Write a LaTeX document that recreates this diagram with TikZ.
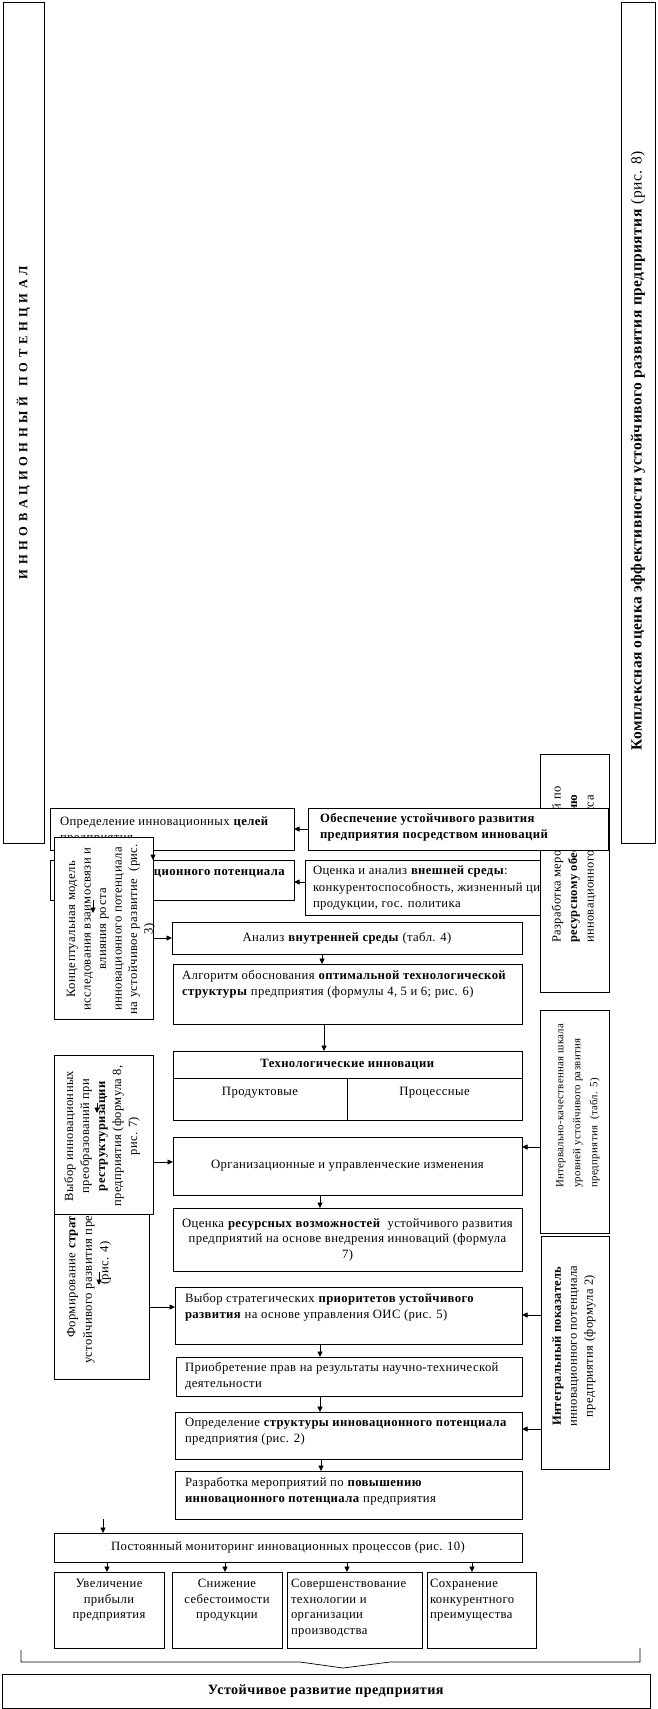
\documentclass[tikz,border=0pt]{standalone}
\usepackage{fontspec}
\setmainfont{Liberation Serif}[LetterSpace=3]
\usetikzlibrary{arrows.meta}
\newcommand{\bxc}[3]{\begin{minipage}[c][#2][c]{#1}\centering #3\par\end{minipage}}
\newcommand{\bxt}[5]{\begin{minipage}[c][#2][t]{#1}\vspace*{#3}\raggedright\leftskip=#4\relax\strut #5\par\end{minipage}}
\newcommand{\bxtc}[4]{\begin{minipage}[c][#2][t]{#1}\vspace*{#3}\centering\strut #4\par\end{minipage}}
\begin{document}
\begin{tikzpicture}[x=1pt,y=-1pt,
  every node/.style={font=\fontsize{12.7}{15.5}\selectfont},
  box/.style={draw, line width=0.8pt, fill=white, inner sep=0pt, outer sep=0pt, anchor=north west},
  frame/.style={draw, line width=0.8pt, fill=white, inner sep=0pt, outer sep=0pt, anchor=north west},
  rt/.style={rotate=90, inner sep=0pt, align=center},
  arr/.style={line width=0.8pt, -{Triangle[length=5.5pt,width=5pt]}},
]
\useasboundingbox (0,0) rectangle (657,1709);
% banners
\node[frame, minimum width=41pt, minimum height=841pt] (bL) at (3,2) {};
\node[rt, font=\bfseries\fontsize{12.5}{14}\selectfont] (bLt) at (bL.center) {\spaceskip=4.6pt\relax И Н Н О В А Ц И О Н Н Ы Й\hspace{6pt} П О Т Е Н Ц И А Л};
\node[frame, minimum width=34pt, minimum height=841pt] (bR) at (621,2) {};
\node[rt, font=\fontsize{15.5}{17}\selectfont] (bRt) at (638,451) {\textbf{Комплексная оценка эффективности устойчивого развития предприятия} (рис. 8)};
% top rows
\node[box] (opr) at (50,808) {\bxt{244pt}{42pt}{7pt}{10pt}{Определение инновационных \textbf{целей}\\предприятия}};
\node[box] (row2) at (50,860) {\bxt{244pt}{40pt}{5pt}{104pt}{\textbf{ционного потенциала}}};
\node[box] (vnesh) at (305,860) {\bxt{295pt}{55pt}{4pt}{8pt}{\fontsize{12.7}{16.5}\selectfont Оценка и анализ \textbf{внешней среды}:\\\mbox{конкурентоспособность, жизненный цикл}\\продукции, гос. политика}};
\node[frame, minimum width=69pt, minimum height=238pt] (razr) at (540,754) {};
\node[rt, align=left, anchor=west, font=\fontsize{12.5}{16.5}\selectfont] (razrt) at (574,943) {Разработка мероприятий по\\\textbf{ресурсному обеспечению}\\инновационного процесса};
\node[box] (obesp) at (308,808) {\bxt{300pt}{42pt}{4pt}{12pt}{\textbf{Обеспечение устойчивого развития}\\\textbf{предприятия посредством инноваций}}};
% conceptual model
\node[frame, minimum width=99pt, minimum height=182pt] (konc) at (54,837) {};
\node[rt] (konct) at (111,929) {Концептуальная модель\\исследования взаимосвязи и\\влияния роста\\инновационного потенциала\\на устойчивое развитие\ \ (рис.\\3)};
% central column
\node[box] (anal) at (172,922) {\bxc{350pt}{32pt}{Анализ \textbf{внутренней среды} (табл. 4)}};
\node[box] (alg) at (173,964) {\bxt{349pt}{60pt}{5pt}{9pt}{\mbox{Алгоритм обоснования \textbf{оптимальной технологической}}\\\textbf{структуры} предприятия (формулы 4, 5 и 6; рис. 6)}};
\node[box] (techt) at (173,1051) {\bxc{349pt}{27pt}{\textbf{Технологические инновации}}};
\node[box] (techp) at (173,1078) {\bxtc{174pt}{42pt}{7pt}{Продуктовые}};
\node[box] (techr) at (347,1078) {\bxtc{175pt}{42pt}{7pt}{Процессные}};
% strategy
\node[frame, minimum width=95pt, minimum height=232pt] (form) at (54,1147) {};
\node[rt, font=\fontsize{12.7}{16.5}\selectfont] (formt) at (89,1263) {Формирование \textbf{стратегии}\\устойчивого развития предприятия\\(рис. 4)};
\node[frame, minimum width=99pt, minimum height=159pt] (vybor) at (54,1055) {};
\node[rt, font=\fontsize{12.5}{16}\selectfont] (vybort) at (102,1136) {Выбор инновационных\\преобразований при\\\textbf{реструктуризации}\\предприятия (формула 8,\\рис. 7)};
\node[box] (org) at (173,1137) {\bxc{349pt}{58pt}{Организационные и управленческие изменения}};
% right column
\node[frame, minimum width=69pt, minimum height=223pt] (interv) at (540,1010) {};
\node[rt, align=left, anchor=west, font=\fontsize{10.8}{17}\selectfont] (intervt) at (578,1188) {Интервально-качественная шкала\\уровней устойчивого развития\\предприятия\ \ (табл. 5)};
\node[frame, minimum width=68pt, minimum height=233pt] (integ) at (541,1236) {};
\node[rt, font=\fontsize{12.5}{16}\selectfont] (integt) at (574,1346) {\textbf{Интегральный показатель}\\инновационного потенциала\\предприятия (формула 2)};
% lower column
\node[box] (resurs) at (173,1208) {\bxc{349pt}{63pt}{Оценка \textbf{ресурсных возможностей}\ \ устойчивого развития\\\mbox{предприятий на основе внедрения инноваций (формула}\\7)}};
\node[box] (strat) at (175,1287) {\bxt{347pt}{57pt}{5pt}{10pt}{\mbox{Выбор стратегических \textbf{приоритетов устойчивого}}\\\textbf{развития} на основе управления ОИС (рис. 5)}};
\node[box] (priobr) at (176,1357) {\bxt{346pt}{39pt}{4pt}{9pt}{\mbox{Приобретение прав на результаты научно-технической}\\деятельности}};
\node[box] (struct) at (175,1412) {\bxt{347pt}{47pt}{4pt}{10pt}{\mbox{Определение \textbf{структуры инновационного потенциала}}\\предприятия (рис. 2)}};
\node[box] (povysh) at (175,1471) {\bxt{347pt}{48pt}{5pt}{10pt}{Разработка мероприятий по \textbf{повышению}\\\textbf{инновационного потенциала} предприятия}};
\node[box] (monit) at (54,1533) {\bxc{468pt}{29pt}{Постоянный мониторинг инновационных процессов (рис. 10)}};
\node[box] (res1) at (54,1572) {\bxtc{110pt}{76pt}{5pt}{Увеличение\\прибыли\\предприятия}};
\node[box] (res2) at (172,1572) {\bxtc{110pt}{76pt}{5pt}{Снижение\\себестоимости\\продукции}};
\node[box] (res3) at (287,1572) {\bxt{135pt}{76pt}{5pt}{4pt}{Совершенствование\\технологии и\\организации\\производства}};
\node[box] (res4) at (427,1572) {\bxt{109pt}{76pt}{5pt}{3pt}{Сохранение\\конкурентного\\преимущества}};
\node[box] (ust) at (2,1674) {\bxc{648pt}{34pt}{\fontsize{14.2}{16}\selectfont\textbf{Устойчивое развитие предприятия}}};
% brace
\draw[line width=0.7pt] (21,1650) -- (21,1662) -- (300,1662) -- (343,1668) -- (390,1662) -- (640,1662) -- (640,1648);
% connectors
\draw[arr] (obesp.west) -- (opr.east);
\draw[arr] (vnesh.west |- 0,882) -- (row2.east |- 0,882);
\draw[arr] (opr.south -| 153,0) -- (row2.north -| 153,0);
\coordinate (k1) at (93,913);
\draw[arr] (row2.south -| 93,0) -- (k1);
\draw[arr] (konc.east |- anal.west) -- (anal.west);
\draw[arr] (anal.south -| 322,0) -- (alg.north -| 322,0);
\draw[arr] (alg.south -| 324,0) -- (techt.north -| 324,0);
\coordinate (k2) at (97,1103);
\coordinate (k3) at (97,1113);
\draw[arr] (k2) -- (k3);
\draw[arr] (vybor.east |- 0,1162) -- (org.west |- 0,1162);
\draw[arr] (interv.west |- 0,1147) -- (org.east |- 0,1147);
\draw[arr] (org.south -| 320,0) -- (resurs.north -| 320,0);
\coordinate (k4) at (99,1272);
\coordinate (k5) at (99,1285);
\draw[arr] (k4) -- (k5);
\draw[arr] (form.east |- 0,1307) -- (strat.west |- 0,1307);
\draw[arr] (integ.west |- 0,1315) -- (strat.east |- 0,1315);
\draw[arr] (strat.south -| 320,0) -- (priobr.north -| 320,0);
\draw[arr] (priobr.south -| 320,0) -- (struct.north -| 320,0);
\draw[arr] (integ.west |- 0,1429) -- (struct.east |- 0,1429);
\draw[arr] (struct.south -| 321,0) -- (povysh.north -| 321,0);
\coordinate (k6) at (103,1519);
\draw[arr] (k6) -- (monit.north -| 103,0);
\draw[arr] (monit.south -| 107,0) -- (res1.north -| 107,0);
\draw[arr] (monit.south -| 225,0) -- (res2.north -| 225,0);
\draw[arr] (monit.south -| 347,0) -- (res3.north -| 347,0);
\draw[arr] (monit.south -| 472,0) -- (res4.north -| 472,0);
\end{tikzpicture}
\end{document}
